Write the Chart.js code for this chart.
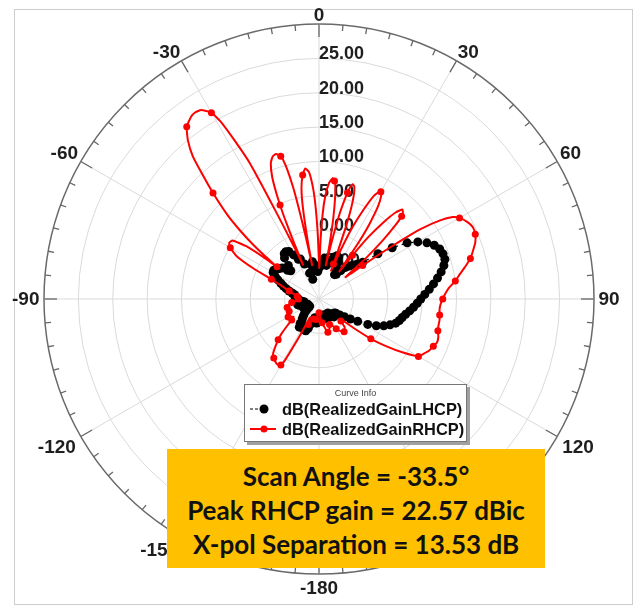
<!DOCTYPE html>
<html><head><meta charset="utf-8">
<script src="https://cdn.jsdelivr.net/npm/chart.js@4.4.1/dist/chart.umd.min.js"></script>
<style>
html,body{margin:0;padding:0;background:#fff;}
#wrap{position:relative;width:637px;height:614px;overflow:hidden;}
#frame{position:absolute;left:14px;top:9px;width:617px;height:594px;border:1px solid #cdcdcd;}
#c{position:absolute;left:0;top:0;}
#legend{position:absolute;left:244px;top:384px;width:221px;height:56px;background:#fff;border:1px solid #777;box-shadow:3px 3px 0 #a0a0a0;font-family:"Liberation Sans",Arial,sans-serif;}
#legend .lt{font-size:9px;color:#444;text-align:center;line-height:12px;margin-top:2px;}
#legend .row{position:relative;height:20px;line-height:20px;font-size:16.4px;font-weight:bold;color:#111;padding-left:37px;white-space:nowrap;}
#legend svg{position:absolute;left:4px;top:5px;}
#note{position:absolute;left:167px;top:449px;width:378px;height:119px;background:#FFC000;font-family:Lato,"Open Sans",sans-serif;font-weight:bold;font-size:26px;color:#111;text-align:center;line-height:34px;padding-top:10px;box-sizing:border-box;}
</style></head><body>
<div id="wrap">
<div id="frame"></div>
<canvas id="c" width="637" height="614"></canvas>
<div id="legend">
  <div class="lt">Curve Info</div>
  <div class="row"><svg width="28" height="10"><line x1="1" y1="5" x2="9" y2="5" stroke="#000" stroke-width="1.2" stroke-dasharray="3,2"/><circle cx="15" cy="5" r="4.5" fill="#000"/></svg>dB(RealizedGainLHCP)</div>
  <div class="row"><svg width="28" height="10"><line x1="1" y1="5" x2="27" y2="5" stroke="#ff0000" stroke-width="2"/><circle cx="15" cy="5" r="3.5" fill="#ff0000"/></svg>dB(RealizedGainRHCP)</div>
</div>
<div id="note">Scan Angle = -33.5°<br>Peak RHCP gain = 22.57 dBic<br>X-pol Separation = 13.53 dB</div>
</div>
<script>
// angle tick labels shown around the rim (degrees, 0 at top, clockwise positive)
const angleTickLabels = [0, 30, 60, 90, 120, 150, -180, -150, -120, -90, -60, -30];
// radial tick labels (dB)
const radialTickValues = [25, 20, 15, 10, 5, 0, -5];
const radialMin = -10, radialMax = 30, radialStep = 5;

// RHCP realized gain (dB) vs theta (deg)
const rhcpAngles = [-180,-172.5,-165,-157.5,-154,-152.5,-151,-150,-147.5,-145,-142.5,-140,-137.5,-135,-132.5,-130,-127.5,-125,-120,-115,-112.5,-110,-105,-100,-97.5,-95,-90,-85,-82.5,-80,-75,-70,-67.5,-65,-62.5,-60,-58,-56,-54,-53,-52.5,-51.5,-50.5,-49,-47.5,-45,-43,-41.5,-39.5,-37.5,-35,-33.5,-32,-30,-29,-28,-27,-26.5,-26,-25.5,-25,
  -24,-23,-22.5,-22,-21,-19.5,-18,-16.5,-15,-14,-13,-12.5,-12,-11.5,
  -11,-10,-9,-7.5,-6,-4.5,-3,-2,-1,0.5,
  1.5,2.5,3.5,5,6.5,7.5,8,9,10,11,11.5,
  12.5,13.5,14.5,15,15.5,16.5,17.5,18.5,19.5,20.5,21.5,22.5,23,
  24,25,26.5,28,29.5,30,31,32.5,34,35,36.5,
  37.5,38.5,40,41.5,43,44.5,45,46,47.5,49,50.5,
  51.5,52.5,53.5,54.5,55.5,57,58.5,60,62.5,65,67.5,70,72.5,75,77.5,80,82.5,85,87.5,90,92.5,95,97.5,100,102.5,105,107.5,110,112.5,115,117.5,120,122.5,125,127.5,130,132.5,135,137.5,140,142.5,145,150,152.5,157.5,160,165,167.5,172.5,175];
const rhcpDb = [-8,-7,-7,-6,-7,-4,0,1.1,1.3,1.1,0.8,0.4,-0.6,-1.6,-2.7,-4,-5,-5.5,-4.8,-5,-5.3,-5.5,-5.2,-5.6,-6,-6.5,-7,-7,-6.8,-6.5,-5.5,-4,-2.5,0.5,3.5,4.9,5.4,5.2,3,0,-2.3,0,2.4,5.3,8,11.8,15,17.7,20,21.6,22.4,22.57,22.4,21.3,19.5,16,12.2,7,2,-2,-4.5,
  -1,3,4.8,6.5,9,11,11.8,12,11.5,10,6.5,3,-1,-5,
  -1.5,3.5,6.3,8.2,9.1,8.5,6,3,-1,-5.5,
  -1.5,2.5,5,7,7.7,7.3,7,5,2,-2,-5,
  -1.5,2.5,5,6,6.8,7.4,7.1,6,4,1,-2.5,-4.5,-5.5,
  -2,1.5,4.5,7,8,8,7.6,6,3,0,-5,
  -2,1.5,4.5,6.8,7.8,7.4,7,5.5,2.5,-1,-5,
  -4,-2,1,4.5,8,11,12.8,13.6,14.3,14.7,14.6,14.2,13.5,12.8,11.8,10.8,10,9,8.4,8,7.7,7.6,7.7,7.8,7.8,7.9,8.2,8.3,8,7.7,7.2,6.7,4.5,2,-0.5,-3.5,-5.5,-5.5,-4.5,-4.2,-4,-4.2,-5,-5.5,-6,-5.5,-5,-5.5,-6.5,-7];

// LHCP realized gain (dB) vs theta (deg)
const lhcpAngles = [-180,-177.5,-175,-172.5,-170,-167.5,-165,-162.5,-160,-157.5,-155,-152.5,-150,-147.5,-145,-142.5,-140,-137.5,-135,-132.5,-130,-127.5,-125,-122.5,-120,-117.5,-115,-112.5,-110,-107.5,-105,-102.5,-100,-97.5,-95,-92.5,-90,-87.5,-85,-82.5,-80,-77.5,-75,-72.5,-70,-67.5,-65,-62.5,-60,-57.5,-55,-52.5,-50,-47.5,-45,-42.5,-40,-37.5,-35,-32.5,-30,-27.5,-25,-22.5,-20,-17.5,-15,-12.5,-10,-7.5,-5,-2.5,0,2.5,5,7.5,10,12.5,15,17.5,20,22.5,25,27.5,30,32.5,35,37.5,40,42.5,45,47.5,50,52.5,55,57.5,60,62.5,65,67.5,70,72.5,75,77.5,80,82.5,85,87.5,90,92.5,95,97.5,100,102.5,105,107.5,110,112.5,115,117.5,120,122.5,125,127.5,130,132.5,135,137.5,140,142.5,145,147.5,150,152.5,155,157.5,160,162.5,165,167.5,170,172.5,175,177.5];
const lhcpDb = [-7,-6.8,-6.5,-6.5,-7,-7.2,-6.8,-6.2,-5.5,-5,-5,-5.5,-5.5,-5.2,-5,-5.5,-6.2,-6.6,-7,-7.5,-8,-8.3,-8,-7.6,-7.4,-7.8,-8.2,-8,-7.5,-7,-6.8,-7.2,-7.8,-7.5,-7,-6.8,-7,-6.8,-6.5,-6.5,-6.4,-6,-5.5,-5,-4.5,-4,-3.4,-2.8,-2.3,-2.2,-2.4,-2.7,-3,-3.8,-4.2,-3.4,-2.2,-1.7,-1.6,-1.8,-2.6,-3.5,-3.6,-4.5,-6,-7,-6,-5,-4.5,-5,-5.8,-6,-5.5,-5.2,-4.5,-4,-4.2,-5,-4.6,-4,-3.5,-3.2,-3.3,-4,-5,-5.8,-5.6,-4.8,-4,-3.5,-3,-2.5,-1.7,0.8,3,5.2,6.6,7.7,8.5,9,9.2,9.2,8.8,8.2,7.5,6.8,6.1,5.4,4.8,4.3,3.8,3.3,2.8,2.4,2.1,1.7,1,0.2,-0.8,-2,-3.5,-4.6,-5.5,-6.2,-6.8,-7,-7,-6.8,-6.6,-7,-7.4,-7.6,-7.3,-7,-6.9,-7,-7.4,-7.6,-7.2,-7,-7,-7.2,-7.3,-7.1];

// half-degree angular grid used as the radar categories
const angleGrid = [];
for (let i = 0; i < 720; i++) { const a = i / 2; angleGrid.push(a <= 180 ? a : a - 360); }

function toSeries(angles, vals) {
  const arr = new Array(angleGrid.length).fill(null);
  angles.forEach((a, i) => {
    const idx = Math.round((((a % 360) + 360) % 360) * 2) % 720;
    arr[idx] = vals[i];
  });
  return arr;
}

const FONT = '"Liberation Sans", Arial, sans-serif';

const polarDecor = {
  id: 'polarDecor',
  beforeDatasetsDraw(chart) {
    const s = chart.scales.r, ctx = chart.ctx;
    ctx.save();
    ctx.font = 'bold 18px ' + FONT;
    ctx.fillStyle = '#1e1e1e';
    ctx.textAlign = 'left';
    ctx.textBaseline = 'middle';
    radialTickValues.forEach(v => {
      const p = s.getPointPosition(0, s.getDistanceFromCenterForValue(v));
      ctx.fillText(v.toFixed(2), p.x, p.y - 4);
    });
    ctx.restore();
  },
  afterDraw(chart) {
    const s = chart.scales.r, ctx = chart.ctx, R = s.drawingArea;
    ctx.save();
    ctx.strokeStyle = '#666';
    ctx.lineWidth = 1.3;
    for (let a = 0; a < 360; a += 5) {
      const len = a % 30 === 0 ? 13 : 6;
      const p1 = s.getPointPosition(a * 2, R);
      const p2 = s.getPointPosition(a * 2, R - len);
      ctx.beginPath(); ctx.moveTo(p1.x, p1.y); ctx.lineTo(p2.x, p2.y); ctx.stroke();
    }
    ctx.font = 'bold 19px ' + FONT;
    ctx.fillStyle = '#1e1e1e';
    ctx.textAlign = 'center';
    ctx.textBaseline = 'middle';
    angleTickLabels.forEach(lab => {
      const deg = ((lab % 360) + 360) % 360;
      const txt = String(lab);
      const w = ctx.measureText(txt).width, h = 14;
      const th = deg * Math.PI / 180;
      const sn = Math.sin(th), cs = Math.cos(th);
      const gap = 4.5 - 2.5 * cs;
      const p = s.getPointPosition(deg * 2, R + gap);
      const sx = Math.abs(sn) < 1e-6 ? 0 : Math.sign(sn);
      const sy = Math.abs(cs) < 1e-6 ? 0 : -Math.sign(cs);
      ctx.fillText(txt, p.x + sx * w / 2, p.y + sy * h / 2 + 1);
    });
    ctx.restore();
  }
};

new Chart(document.getElementById('c'), {
  type: 'radar',
  data: {
    labels: angleGrid,
    datasets: [
      {
        label: 'dB(RealizedGainRHCP)',
        data: toSeries(rhcpAngles, rhcpDb),
        borderColor: '#ff0000',
        backgroundColor: '#ff0000',
        borderWidth: 2,
        tension: 0.15,
        pointRadius: c => (c.index % 15 === 0 ? 3.5 : 0),
        pointBackgroundColor: '#ff0000',
        pointBorderWidth: 0,
        spanGaps: true,
        fill: false
      },
      {
        label: 'dB(RealizedGainLHCP)',
        data: toSeries(lhcpAngles, lhcpDb),
        borderColor: '#000',
        backgroundColor: '#000',
        borderWidth: 1.2,
        borderDash: [4, 4],
        tension: 0,
        pointRadius: 4.5,
        pointBackgroundColor: '#000',
        pointBorderWidth: 0,
        spanGaps: true,
        fill: false
      }
    ]
  },
  options: {
    responsive: false,
    animation: false,
    devicePixelRatio: 1,
    events: [],
    layout: { padding: { left: 44, top: 24, right: 43, bottom: 40 } },
    plugins: { legend: { display: false }, tooltip: { enabled: false } },
    scales: {
      r: {
        min: radialMin, max: radialMax, startAngle: 0,
        ticks: { display: false, stepSize: radialStep },
        pointLabels: { display: false },
        grid: {
          circular: true,
          color: c => (c.tick && c.tick.value === radialMax ? '#6a6a6a' : '#dadada'),
          lineWidth: c => (c.tick && c.tick.value === radialMax ? 1.5 : 1)
        },
        angleLines: {
          display: true,
          color: '#dadada',
          lineWidth: c => (c.index % 60 === 0 ? 1 : 0)
        }
      }
    }
  },
  plugins: [polarDecor]
});
</script>
</body></html>
